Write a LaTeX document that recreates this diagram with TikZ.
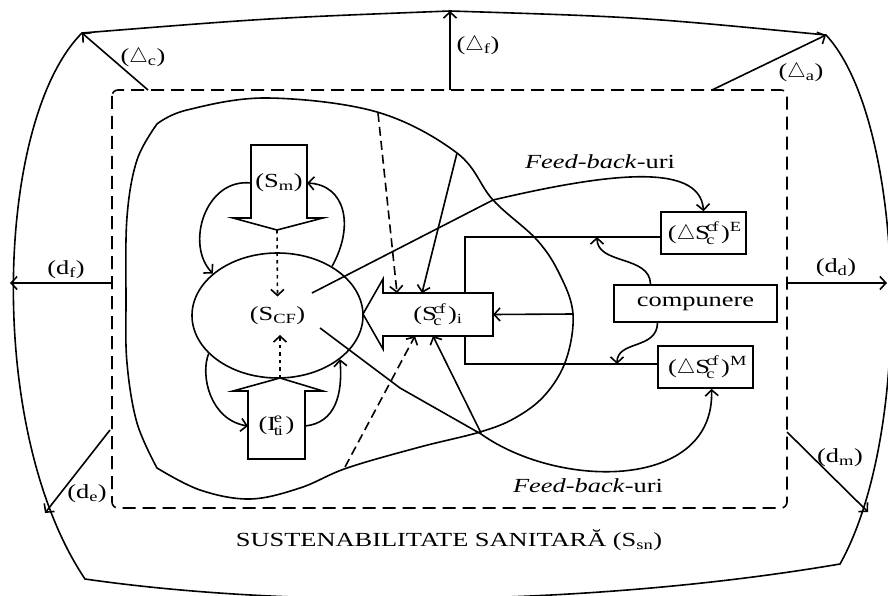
\documentclass[tikz,border=0pt]{standalone}
\usepackage{fontspec}
\setmainfont{Liberation Serif}[FakeStretch=1.32]
\usetikzlibrary{arrows.meta,shapes.geometric}

\begin{document}
\begin{tikzpicture}[
  x=1pt, y=-1pt,
  font=\fontsize{20}{23}\selectfont,
  line width=1.6pt,
  arr/.style={-{Straight Barb[length=6pt,width=13pt]}},
  dasharr/.style={arr,dash pattern=on 9pt off 5pt},
  dotarr/.style={arr,dash pattern=on 3.5pt off 4pt},
  dashframe/.style={dash pattern=on 13pt off 7pt,rounded corners=6pt},
  box/.style={draw,inner sep=2pt,minimum height=42pt},
  lbl/.style={inner sep=1pt,outer sep=0pt}
]
\useasboundingbox (0,0) rectangle (888,596);
\clip (0,0) rectangle (888,596);

% outer frame and dashed system boundary
\draw (82,33) .. controls (270,18) .. (450,11) .. controls (640,17) .. (826,35)
  .. controls (905,120) and (915,430) .. (840,564)
  .. controls (600,605) and (300,610) .. (85,579)
  .. controls (-15,430) and (-5,120) .. (82,33) -- cycle;
\draw[dashframe] (112,90) rectangle (787,508);

\coordinate (fDc) at (148,90);  \coordinate (oDc) at (82,33);
\coordinate (fDf) at (450,90);  \coordinate (oDf) at (450,11);
\coordinate (fDa) at (712,90);  \coordinate (oDa) at (826,35);
\coordinate (fdf) at (112,283); \coordinate (odf) at (10,283);
\coordinate (fdd) at (787,283); \coordinate (odd) at (887,283);
\coordinate (fde) at (110,430); \coordinate (ode) at (45,513);
\coordinate (fdm) at (787,432); \coordinate (odm) at (868,512);
\draw[arr] (fDc) -- (oDc);
\draw[arr] (fDf) -- (oDf);
\draw[arr] (fDa) -- (oDa);
\draw[arr] (fdf) -- (odf);
\draw[arr] (fdd) -- (odd);
\draw[arr] (fde) -- (ode);
\draw[arr] (fdm) -- (odm);
\node[lbl] (lDc) at (143,57) {(\(\triangle\)\textsubscript{c})};
\node[lbl] (lDf) at (478,45) {(\(\triangle\)\textsubscript{f})};
\node[lbl] (lDa) at (801,72) {(\(\triangle\)\textsubscript{a})};
\node[lbl] (ldf) at (66,270) {(d\textsubscript{f})};
\node[lbl] (ldd) at (836,268) {(d\textsubscript{d})};
\node[lbl] (lde) at (87,494) {(d\textsubscript{e})};
\node[lbl] (ldm) at (840,458) {(d\textsubscript{m})};
\node[lbl] (ssn) at (449,540) {SUSTENABILITATE SANITARĂ (S\textsubscript{sn})};

% inner region
\draw plot[smooth,tension=0.6] coordinates {(157,124) (187,110) (267,98) (377,112)
  (457,153) (493,200) (537,240) (560,275) (573,314) (566,360) (545,395) (515,418)
  (480,432) (420,447) (347,468) (300,488) (250,499) (200,490) (157,468)}
  -- plot[smooth,tension=0.6] coordinates {(157,468) (137,423) (127,363) (126,300)
  (127,217) (137,160) (157,124)} -- cycle;

\node[draw,ellipse,minimum width=171pt,minimum height=125pt] (scf) at (277.5,315.5) {(S\textsubscript{CF})};

% block arrows
\draw (251,218) -- (251,145) -- (307,145) -- (307,218) -- (323,218) -- (277,230) -- (233,218) -- cycle;
\node[lbl,minimum width=56pt] (sm) at (279,183) {(S\textsubscript{m})};
\coordinate (smtip) at (277,230);
\draw (248,391) -- (248,459) -- (305,459) -- (305,391) -- (323,391) -- (280,378) -- (233,391) -- cycle;
\node[lbl,minimum width=57pt] (iti) at (276.5,426) {(\(\mathrm{I}^{\mathrm{e}}_{\mathrm{ti}}\,\))};
\coordinate (itip) at (280,378);

\draw[arr] (sm.west) .. controls (205,178) and (185,245) .. (scf.147);
\draw[arr] (scf.42) .. controls (355,225) and (345,185) .. (sm.east);
\draw[dotarr] (smtip) -- ([yshift=19pt]scf.center);
\draw[arr] (scf.209) .. controls (200,375) and (210,420) .. (iti.west);
\draw[arr] (iti.east) .. controls (335,423) and (343,395) .. (scf.325);
\draw[dotarr] (itip) -- ([xshift=2.5pt,yshift=-19.5pt]scf.center);

% right-hand boxes
\node[box,minimum width=85pt] (ebox) at (703.5,233) {(\(\triangle\mathrm{S}^{\mathrm{cf}}_{\mathrm{c}}\,\))\(^{\mathrm{E}}\)};
\node[box,minimum width=95pt] (mbox) at (705.5,367) {(\(\triangle\mathrm{S}^{\mathrm{cf}}_{\mathrm{c}}\,\))\(^{\mathrm{M}}\)};
\node[box,minimum width=163pt,minimum height=37pt] (comp) at (695.5,303.5) {compunere};
\coordinate (brk) at (465,300);
\draw ([yshift=-4pt]ebox.west) -| (brk) |- ([yshift=3pt]mbox.west);
\coordinate (ej) at (597,237);
\coordinate (mj) at (617,364);
\draw[arr] ([xshift=-45pt]comp.north) .. controls (650,255) and (597,265) .. (ej);
\draw[arr] ([xshift=-38pt]comp.south) .. controls (657,350) and (617,340) .. (mj);

\draw[fill=white] (383,293) -- (493,293) -- (493,336) -- (383,336) -- (383,349) -- (363,314) -- (383,279) -- cycle;
\node[lbl,minimum width=110pt,minimum height=43pt] (sc) at (438,314.5) {(\(\mathrm{S}^{\mathrm{cf}}_{\mathrm{c}}\,\))\textsubscript{i}};

% inputs to the central block
\coordinate (bt1) at (378,113);
\coordinate (bt2) at (457,153);
\coordinate (bb1) at (345,467);
\coordinate (bb2) at (481,433);
\coordinate (br) at (573,314);
\draw[dasharr] (bt1) -- ([xshift=-41pt]sc.north);
\draw[arr] (bt2) -- ([xshift=-16pt]sc.north);
\draw[dasharr] (bb1) -- ([xshift=-23pt]sc.south);
\draw[arr] (bb2) -- ([xshift=-5pt]sc.south);
\draw[arr] (br) -- (sc.east);

% feed-back loops
\coordinate (fbt0) at (312,293);
\coordinate (fbb0) at (320,328);
\draw[arr] (fbt0) -- (493,200) .. controls (600,175) and (700,160) .. (ebox.north);
\draw[arr] (fbb0) -- (400,388) -- (481,434) .. controls (560,490) and (715,490) .. ([xshift=6pt]mbox.south);
\node[lbl] (fbtl) at (600,162) {\textit{Feed-back}-uri};
\node[lbl] (fbbl) at (588,486) {\textit{Feed-back}-uri};
\end{tikzpicture}
\end{document}
